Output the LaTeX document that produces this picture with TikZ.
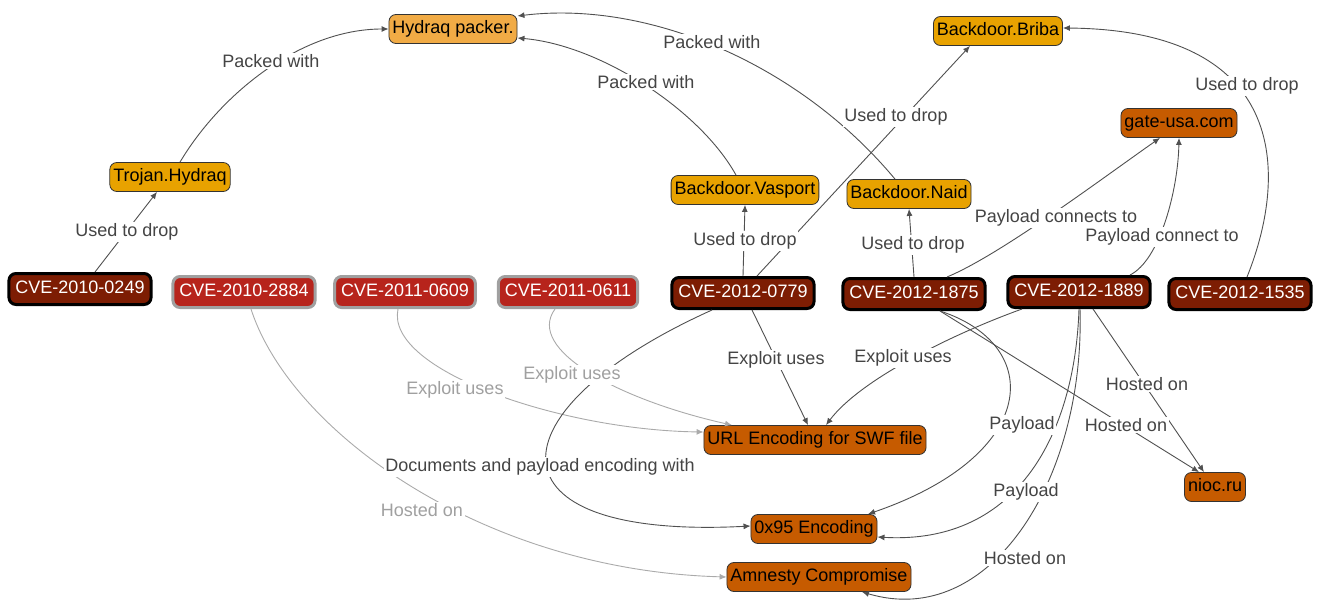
\documentclass[tikz,border=0pt]{standalone}
\usepackage{fontspec}
\setmainfont{Liberation Sans}
\usetikzlibrary{arrows.meta}
\definecolor{packfill}{HTML}{F1AB45}
\definecolor{yelfill}{HTML}{E8A200}
\definecolor{orfill}{HTML}{C65B00}
\definecolor{dredfill}{HTML}{7D1D03}
\definecolor{redfill}{HTML}{B7241C}
\definecolor{redborder}{HTML}{A0A0A0}
\definecolor{edgecol}{HTML}{505050}
\definecolor{gedgecol}{HTML}{AAAAAA}
\definecolor{labcol}{HTML}{444444}
\definecolor{glabcol}{HTML}{A0A0A0}
\begin{document}
\begin{tikzpicture}[x=1pt,y=-1pt,
  base/.style={rounded corners=7pt, draw=black!80, line width=0.8pt,
    font=\fontsize{18}{21}\selectfont, inner xsep=3.5pt, inner ysep=0pt,
    minimum height=29pt, text height=12.9pt, text depth=3.8pt},
  pack/.style={base, fill=packfill},
  yel/.style={base, fill=yelfill},
  orn/.style={base, fill=orfill},
  cved/.style={base, fill=dredfill, draw=black, line width=3pt, text=white,
    inner xsep=6.5pt, minimum height=31pt},
  cver/.style={base, fill=redfill, draw=redborder, line width=3pt, text=white,
    inner xsep=6.5pt, minimum height=31pt},
  edge/.style={draw=edgecol, line width=0.9pt, -{Latex[length=7pt,width=6pt]}},
  gedge/.style={draw=gedgecol, line width=0.9pt, -{Latex[length=7pt,width=6pt]}},
  lab/.style={fill=white, inner sep=1.5pt, text=labcol, font=\fontsize{18}{21}\selectfont},
  glab/.style={lab, text=glabcol}
]
\useasboundingbox (0,0) rectangle (1319,604);

% nodes
\node[pack] (hydraq) at (453,29) {Hydraq packer.};
\node[yel] (briba) at (998,31) {Backdoor.Briba};
\node[yel] (trojan) at (170,177) {Trojan.Hydraq};
\node[yel] (vasport) at (745,190) {Backdoor.Vasport};
\node[yel] (naid) at (909,194) {Backdoor.Naid};
\node[orn] (gate) at (1179,123) {gate-usa.com};
\node[cved] (c0249) at (80,289) {CVE-2010-0249};
\node[cver] (c2884) at (244,292) {CVE-2010-2884};
\node[cver] (c0609) at (405,292) {CVE-2011-0609};
\node[cver] (c0611) at (568,292) {CVE-2011-0611};
\node[cved] (c0779) at (743,293) {CVE-2012-0779};
\node[cved] (c1875) at (914,294) {CVE-2012-1875};
\node[cved] (c1889) at (1079,292) {CVE-2012-1889};
\node[cved] (c1535) at (1240,294) {CVE-2012-1535};
\node[orn] (url) at (815,440) {URL Encoding for SWF file};
\node[orn] (x95) at (814,529) {0x95 Encoding};
\node[orn] (amn) at (819,577) {Amnesty Compromise};
\node[orn] (nioc) at (1215,487) {nioc.ru};

% edges
\draw[edge] ([xshift=15pt]c0249.north) -- ([xshift=-13pt]trojan.south);
\draw[edge] ([xshift=10pt]trojan.north) .. controls (220,95) and (300,29) .. (hydraq.west);
\draw[edge] ([xshift=-9pt]vasport.north) .. controls (700,110) and (600,45) .. ([yshift=-9pt]hydraq.east);
\draw[edge] ([xshift=-14pt]naid.north) .. controls (800,65) and (650,0) .. ([yshift=13pt]hydraq.east);
\draw[edge] (c0779.north) -- (vasport.south);
\draw[edge] ([xshift=14pt]c0779.north) -- ([xshift=-28pt]briba.south);
\draw[edge] (c1875.north) -- (naid.south);
\draw[edge] ([xshift=33pt]c1875.north) .. controls (1000,255) and (1100,180) .. ([xshift=-19pt]gate.south);
\draw[edge] ([xshift=51pt]c1889.north) .. controls (1160,260) and (1178,190) .. (gate.south);
\draw[edge] ([xshift=7pt]c1535.north) .. controls (1290,170) and (1285,30) .. ([yshift=3pt]briba.east);
\draw[edge] ([xshift=9pt]c0779.south) -- ([xshift=-7pt]url.north);
\draw[edge] ([xshift=-57pt]c1889.south) .. controls (950,335) and (860,380) .. ([xshift=11pt]url.north);
\draw[gedge] ([xshift=-7pt]c0609.south) .. controls (385,370) and (560,430) .. ([yshift=8pt]url.west);
\draw[gedge] ([xshift=-13pt]c0611.south) .. controls (525,350) and (620,400) .. ([xshift=-83pt]url.north);
\draw[gedge] ([xshift=7pt]c2884.south) .. controls (290,430) and (480,570) .. (amn.west);
\draw[edge] ([xshift=-31pt]c0779.south) .. controls (490,410) and (480,540) .. ([yshift=3pt]x95.west);
\draw[edge] ([xshift=26pt]c1875.south) .. controls (1045,345) and (1040,455) .. ([xshift=54pt]x95.north);
\draw[edge] (c1889.south) .. controls (1075,430) and (1020,545) .. ([yshift=-8pt]x95.east);
\draw[edge] ([xshift=1pt]c1889.south) .. controls (1085,480) and (990,630) .. ([xshift=43pt]amn.south);
\draw[edge] ([xshift=26pt]c1875.south) -- ([xshift=-16pt]nioc.north);
\draw[edge] ([xshift=14pt]c1889.south) -- ([xshift=-11pt]nioc.north);

% labels
\node[lab] (l1) at (127,232) {Used to drop};
\node[lab] (l2) at (271,61) {Packed with};
\node[lab] (l3) at (646,82) {Packed with};
\node[lab] (l4) at (712,42) {Packed with};
\node[lab] (l5) at (745,241) {Used to drop};
\node[lab] (l6) at (896,117) {Used to drop};
\node[lab] (l7) at (913,245) {Used to drop};
\node[lab] (l8) at (1056,218) {Payload connects to};
\node[lab] (l9) at (1162,237) {Payload connect to};
\node[lab] (l10) at (1247,86) {Used to drop};
\node[lab] (l11) at (776,360) {Exploit uses};
\node[lab] (l12) at (903,358) {Exploit uses};
\node[glab] (l13) at (455,390) {Exploit uses};
\node[glab] (l14) at (572,375) {Exploit uses};
\node[glab] (l15) at (422,510) {Hosted on};
\node[lab] (l16) at (540,467) {Documents and payload encoding with};
\node[lab] (l17) at (1022,425) {Payload};
\node[lab] (l18) at (1026,492) {Payload};
\node[lab] (l19) at (1025,558) {Hosted on};
\node[lab] (l20) at (1126,425) {Hosted on};
\node[lab] (l21) at (1147,384) {Hosted on};
\end{tikzpicture}
\end{document}
